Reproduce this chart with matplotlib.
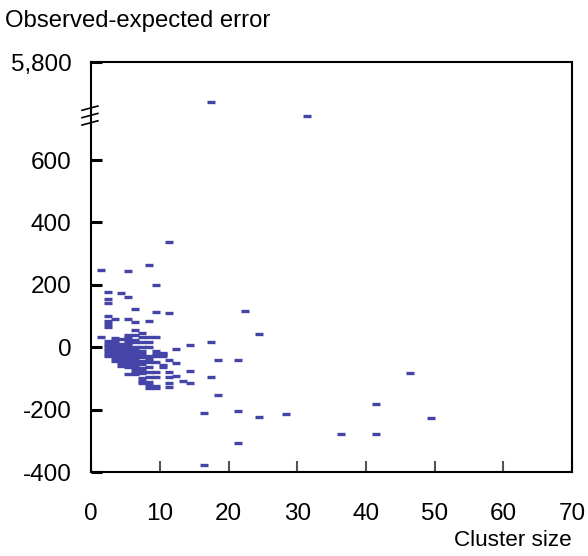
import numpy as np
import matplotlib
matplotlib.use("Agg")
import matplotlib.pyplot as plt
from matplotlib.ticker import FixedLocator, FuncFormatter

plt.rcParams['font.family'] = ['Liberation Sans', 'DejaVu Sans']

# ---- data: (cluster size, observed-expected error) ----
col_x = [1.4, 2.4, 3.4, 4.4, 5.4, 6.4, 7.4, 8.4, 9.4, 10.4, 11.4, 12.4, 13.4, 14.4,
         16.4, 17.4, 18.4, 21.4, 22.4, 24.4, 28.4, 31.4, 36.4, 41.4, 46.4, 49.4]
col_y = [
    [248, 33],
    [178, 156, 141, 100, 85, 73, 66, 21, 12, 4, -4, -12, -20, -28],
    [92, 29, 20, 12, 4, -4, -12, -20, -28, -36, -44],
    [175, 25, 12, 4, -4, -12, -20, -28, -36, -44, -52, -60],
    [244, 162, 92, 39, 32, 24, 14, 6, -2, -10, -18, -26, -34, -42, -50, -58, -64, -85],
    [122, 80, 56, 38, 24, 16, 2, -7, -15, -23, -31, -39, -47, -55, -63, -71, -79, -87],
    [47, 33, 16, 2, -11, -22, -30, -45, -55, -65, -75, -82, -100, -108, -115],
    [264, 85, 33, 16, 0, -27, -37, -48, -64, -80, -96, -110, -120, -130],
    [200, 114, 33, -11, -21, -28, -48, -78, -96, -123, -131],
    [-19, -21, -28, -58, -64],
    [337, 111, -40, -80, -96, -115, -126],
    [-4, -52, -91],
    [-108],
    [8, -75, -115],
    [-211, -379],
    [18, -96, 3700],
    [-40, -152],
    [-40, -205, -307],
    [115],
    [41, -223],
    [-215],
    [2950],
    [-278],
    [-182, -278],
    [-83],
    [-227],
]

xticks = [0, 10, 20, 30, 40, 50, 60, 70]
yticks = [-400, -200, 0, 200, 400, 600, 5800]
x_label = "Cluster size"
y_label = "Observed-expected error"

xs = np.concatenate([[cx] * len(cy) for cx, cy in zip(col_x, col_y)])
ys = np.concatenate([np.asarray(cy, float) for cy in col_y])

# ---- broken y scale: linear to 600, compressed above ----
BREAK = 600.0
K = 0.0603

def fwd(v):
    v = np.asarray(v, float)
    return np.where(v <= BREAK, v, BREAK + (v - BREAK) * K)

def inv(t):
    t = np.asarray(t, float)
    return np.where(t <= BREAK, t, BREAK + (t - BREAK) / K)

fig = plt.figure(figsize=(5.88, 5.56), dpi=100)
ax = fig.add_axes([0.155, 0.151, 0.818, 0.737])
ax.set_yscale('function', functions=(fwd, inv))

ax.plot(xs, ys, linestyle='none', marker='_', markersize=5.4,
        markeredgewidth=2.4, color='#4545a8')

ax.set_xlim(0, 70)
ax.set_ylim(-400, 5800)
ax.xaxis.set_major_locator(FixedLocator(xticks))
ax.yaxis.set_major_locator(FixedLocator(yticks))
ax.yaxis.set_minor_locator(FixedLocator([]))
ax.yaxis.set_major_formatter(FuncFormatter(lambda v, p: f"{int(round(v)):,}"))

ax.tick_params(axis='y', direction='in', length=8, width=2.2, color='black',
               labelsize=17.5, pad=14, right=False)
ax.tick_params(axis='x', direction='in', length=8, width=1.5, color='#555555',
               labelsize=17.5, pad=22, top=False)
for s in ax.spines.values():
    s.set_linewidth(1.5)
    s.set_color('black')

# break marks on the left spine
for yc in (0.888, 0.870, 0.852):
    ax.plot([-0.019, 0.014], [yc - 0.0052, yc + 0.0052], transform=ax.transAxes,
            color='black', lw=1.2, clip_on=False)

fig.text(0.009, 0.962, y_label, fontsize=17.2, ha='left', va='center')
fig.text(0.973, 0.028, x_label, fontsize=16.2, ha='right', va='center')

fig.savefig('out.png', dpi=100)
